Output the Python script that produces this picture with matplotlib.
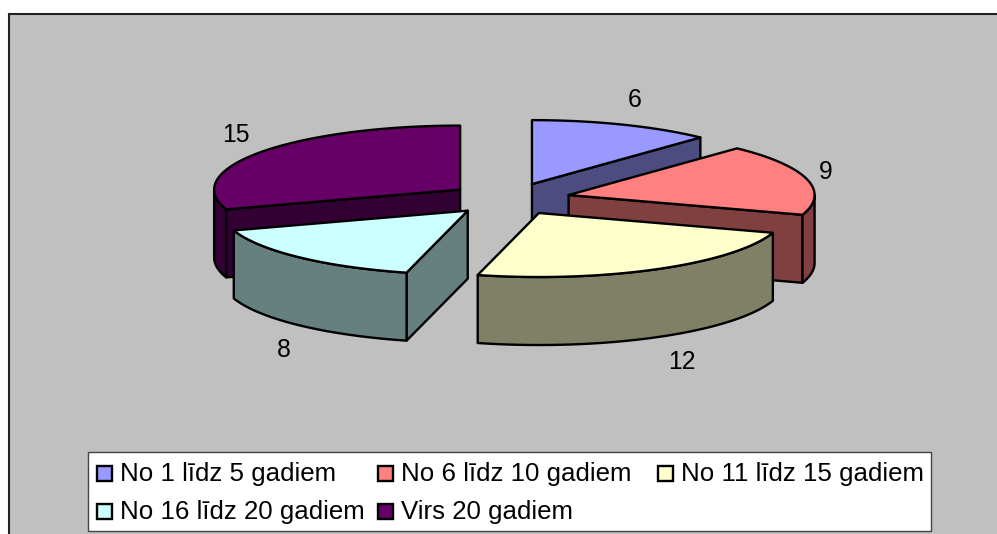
import numpy as np
import matplotlib
matplotlib.use("Agg")
import matplotlib.pyplot as plt
from matplotlib.patches import Polygon, Rectangle

plt.rcParams['font.family'] = ['Liberation Sans', 'DejaVu Sans']

labels = ["No 1 līdz 5 gadiem", "No 6 līdz 10 gadiem", "No 11 līdz 15 gadiem",
          "No 16 līdz 20 gadiem", "Virs 20 gadiem"]
values = [6, 9, 12, 8, 15]
top_colors = ["#9999FF", "#FF8080", "#FFFFCC", "#CCFFFF", "#660066"]
side_colors = ["#4C4C80", "#804040", "#808066", "#668080", "#330033"]

# pie geometry in pixels
cx, cy = 509.5, 199
rx, ry = 246, 64
depth = 68
explode_x, explode_y = 61, 16
line_w = 1.7

# label shift from the edge of each slice, pixels
label_shift = [(12, -25), (19, -7), (24, 25), (-16, 25), (-25, -17)]
draw_order = [0, 4, 1, 3, 2]

fig = plt.figure(figsize=(9.97, 5.34), dpi=100)
ax = fig.add_axes([0, 0, 1, 1])
ax.set_xlim(0, 997)
ax.set_ylim(534, 0)
ax.axis("off")

ax.add_patch(Rectangle((9, 14), 1020, 560, fc="#C0C0C0", ec="#222222", lw=1.5))

total = sum(values)
ends = np.cumsum(values) / total * 2 * np.pi
starts = ends - np.array(values) / total * 2 * np.pi


def rim(x0, y0, a, b, n=80):
    t = np.linspace(a, b, n)
    return np.column_stack([x0 + rx * np.sin(t), y0 - ry * np.cos(t)])


def shape(pts, color):
    ax.add_patch(Polygon(pts, closed=True, fc=color, ec="black", lw=line_w, joinstyle="round"))


for i in draw_order:
    a, b = starts[i], ends[i]
    mid = (a + b) / 2
    x0 = cx + explode_x * np.sin(mid)
    y0 = cy - explode_y * np.cos(mid)
    apex = np.array([[x0, y0]])
    down = np.array([0, depth])

    # flat cut faces, only those turned to the viewer
    for ang, visible in ((a, np.sin(a) < 0), (b, np.sin(b) > 0)):
        if visible:
            p = rim(x0, y0, ang, ang, 1)
            shape(np.vstack([apex, p, p + down, apex + down]), side_colors[i])

    # outer wall, front half only
    lo, hi = max(a, np.pi / 2), min(b, 3 * np.pi / 2)
    if lo < hi:
        p = rim(x0, y0, lo, hi)
        shape(np.vstack([p, (p + down)[::-1]]), side_colors[i])

    shape(np.vstack([apex, rim(x0, y0, a, b)]), top_colors[i])

    # value label
    edge_x = x0 + rx * np.sin(mid)
    edge_y = y0 - ry * np.cos(mid) + (depth if np.cos(mid) < 0 else 0)
    ax.text(edge_x + label_shift[i][0], edge_y + label_shift[i][1], str(values[i]),
            fontsize=17.8, ha="center", va="center", color="black")

# legend
ax.add_patch(Rectangle((87.5, 451.5), 843, 79.5, fc="white", ec="#444444", lw=1.0))
col_x = [97, 378, 658]
row_y = [473, 511.5]
for i, name in enumerate(labels):
    x = col_x[i % 3]
    y = row_y[i // 3]
    ax.add_patch(Rectangle((x, y - 7.5), 15, 15, fc=top_colors[i], ec="black", lw=line_w))
    ax.text(x + 22.5, y + 0.5, name, fontsize=18.6, ha="left", va="center", color="black")

fig.savefig("out.png", dpi=100, facecolor="white")
